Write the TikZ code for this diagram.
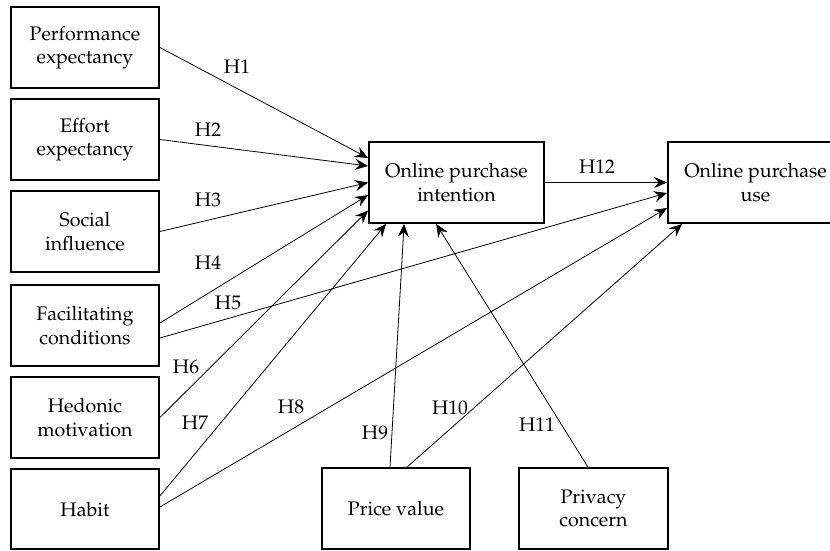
\documentclass[tikz,border=0pt]{standalone}
\usepackage[T1]{fontenc}
\usepackage{mathpazo}
\usepackage{tikz}
\usetikzlibrary{arrows.meta,calc}

\begin{document}
\begin{tikzpicture}[x=1pt,y=-1pt,font=\fontsize{19.6}{23.5}\selectfont,
  box/.style={draw,line width=1.8pt,minimum width=148pt,minimum height=81pt,align=center,inner sep=0pt},
  hyp/.style={-{Stealth[length=13pt,width=11pt,inset=4.5pt]},line width=.8pt},
  hlbl/.style={inner sep=0pt}]
\useasboundingbox(0,0)rectangle(830,550);
\node[box](pe)at(85,47.5){Performance\\expectancy};\node[box](ee)at(85,139.5){Effort\\expectancy};
\node[box](si)at(85,231.5){Social\\influence};\node[box](fc)at(85,325.5){Facilitating\\conditions};
\node[box](hm)at(85,417.5){Hedonic\\motivation};\node[box,minimum height=80pt](hb)at(85,509){Habit};
\node[box,minimum width=175pt](opi)at(456.5,182.5){Online purchase\\intention};
\node[box,minimum width=175pt](opu)at(755.5,182.5){Online purchase\\use};
\node[box,minimum height=81pt](pv)at(396,508.5){Price value};\node[box,minimum width=149pt](pc)at(593.5,508.5){Privacy\\concern};
\draw[hyp](pe.east)--($(opi.west)+(0,-24.5)$);
\draw[hyp](ee.east)--($(opi.west)+(0,-16.5)$);
\draw[hyp](si.east)--(opi.west);
\draw[hyp]($(fc.east)+(0,-2.5)$)--($(opi.west)+(0,12.5)$);
\draw[hyp]($(fc.east)+(0,12.5)$)--($(opu.west)+(0,10.5)$);
\draw[hyp](hm.east)--($(opi.west)+(0,28)$);
\draw[hyp]($(hb.east)+(0,-13)$)--($(opi.south west)+(18,0)$);
\draw[hyp]($(hb.east)+(0,-2)$)--($(opu.west)+(0,25.5)$);
\draw[hyp]($(pv.north)+(-6,0)$)--($(opi.south west)+(36,0)$);
\draw[hyp]($(pv.north)+(11,0)$)--($(opu.south west)+(15,0)$);
\draw[hyp]($(pc.north)+(-5.5,0)$)--($(opi.south west)+(68,0)$);
\draw[hyp](opi.east)--(opu.west);
\node[hlbl](h1)at(237,67){H1};\node[hlbl](h2)at(208,130){H2};\node[hlbl](h3)at(208,200){H3};
\node[hlbl](h4)at(208,263){H4};\node[hlbl](h5)at(228,303){H5};\node[hlbl](h6)at(186,367){H6};
\node[hlbl](h7)at(195,423){H7};\node[hlbl](h8)at(291,407){H8};\node[hlbl](h9)at(375,433){H9};
\node[hlbl](h10)at(450,408){H10};\node[hlbl](h11)at(537,425){H11};\node[hlbl](h12)at(597,167){H12};
\end{tikzpicture}
\end{document}
